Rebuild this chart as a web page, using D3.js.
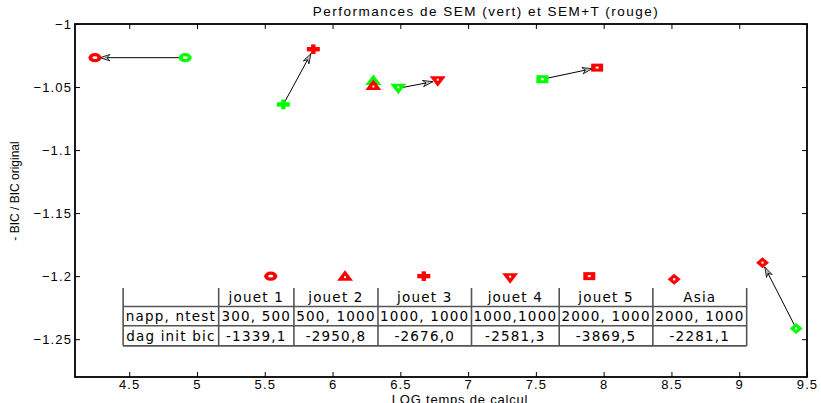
<!DOCTYPE html>
<html><head><meta charset="utf-8">
<script src="https://cdn.jsdelivr.net/npm/d3@7"></script>
<style>
body{margin:0;background:#fff;}
svg{display:block;}
</style></head>
<body><svg id="c" width="821" height="403"></svg>
<script>
// ---- data ----
const shapes = ["circle","plus","triUp","triDown","square","diamond"];
const semX   = [4.913, 5.637, 6.301, 6.485, 7.548, 9.420];   // SEM (vert)
const semY   = [-1.0267, -1.0638, -1.0449, -1.0510, -1.0438, -1.2415];
const semtX  = [4.247, 5.858, 6.301, 6.776, 7.952, 9.172];   // SEM+T (rouge)
const semtY  = [-1.0267, -1.0200, -1.0488, -1.0450, -1.0346, -1.1893];
const arrows = [true, true, false, true, true, true];
// key markers above the table (same shape order as above)
const keyX   = [5.544, 6.673, 6.092, 7.310, 7.894, 8.520];
const keyY   = [-1.2, -1.2, -1.2, -1.2012, -1.2, -1.2025];
const xTicks = [4.5, 5, 5.5, 6, 6.5, 7, 7.5, 8, 8.5, 9, 9.5];
const yTicks = [-1, -1.05, -1.1, -1.15, -1.2, -1.25];
const colHeaders = ["", "jouet 1", "jouet 2", "jouet 3", "jouet 4", "jouet 5", "Asia"];
const rowNapp = ["napp, ntest", "300, 500", "500, 1000", "1000, 1000", "1000,1000", "2000, 1000", "2000, 1000"];
const rowBic  = ["dag init bic", "-1339,1", "-2950,8", "-2676,0", "-2581,3", "-3869,5", "-2281,1"];
// table anchored in data coordinates (x column boundaries, y row boundaries)
const tableColX = [4.455, 5.16, 5.715, 6.335, 7.025, 7.672, 8.363, 9.055];
const tableRowY = [-1.2094, -1.2241, -1.2394, -1.2553];

const RED = "#ff0000", GREEN = "#00ff00";
const m = {l:75, r:807, t:24, b:377};

const svg = d3.select("#c");
const x = d3.scaleLinear().domain([4.1, 9.5]).range([m.l, m.r]);
const y = d3.scaleLinear().domain([-1.28, -1]).range([m.b, m.t]);

const fmtY = d => (d<0?"\u2212":"") + String(Math.abs(d));
const tickFont = "Liberation Sans, Arial, sans-serif";

// axes (box with inward ticks)
const axB = svg.append("g").attr("transform",`translate(0,${m.b})`)
  .call(d3.axisBottom(x).tickValues(xTicks).tickSizeInner(-5).tickSizeOuter(0).tickPadding(3).tickFormat(d=>String(d)));
const axT = svg.append("g").attr("transform",`translate(0,${m.t})`)
  .call(d3.axisTop(x).tickValues(xTicks).tickSizeInner(-5).tickSizeOuter(0).tickFormat(""));
const axL = svg.append("g").attr("transform",`translate(${m.l},0)`)
  .call(d3.axisLeft(y).tickValues(yTicks).tickSizeInner(-5).tickSizeOuter(0).tickPadding(3).tickFormat(fmtY));
const axR = svg.append("g").attr("transform",`translate(${m.r},0)`)
  .call(d3.axisRight(y).tickValues(yTicks).tickSizeInner(-5).tickSizeOuter(0).tickFormat(""));
[axB,axT,axL,axR].forEach(g=>{
  g.select(".domain").remove();
  g.selectAll("line").attr("stroke","#000").attr("stroke-width",1);
  g.selectAll("text").attr("font-family",tickFont).attr("font-size",13).attr("fill","#000").attr("letter-spacing","1.1px");
});
svg.append("rect").attr("x",m.l).attr("y",m.t).attr("width",m.r-m.l).attr("height",m.b-m.t)
  .attr("fill","none").attr("stroke","#000").attr("stroke-width",1.8);

// title & labels
svg.append("text").attr("x",486).attr("y",16).attr("text-anchor","middle")
  .attr("font-family",tickFont).attr("font-size",13.5).attr("letter-spacing","1.5px")
  .text("Performances de SEM (vert) et SEM+T (rouge)");
svg.append("text").attr("x",460).attr("y",404).attr("text-anchor","middle")
  .attr("font-family",tickFont).attr("font-size",13).attr("letter-spacing","0.8px")
  .text("LOG temps de calcul");
svg.append("text").attr("transform","translate(19,191) rotate(-90)").attr("text-anchor","middle")
  .attr("font-family","Liberation Sans Narrow, Liberation Sans, sans-serif").attr("font-size",12)
  .text("- BIC / BIC original");

// arrows (green -> red)
const gA = svg.append("g");
semX.forEach((sx,i)=>{
  if(!arrows[i]) return;
  const x1=x(sx), y1=y(semY[i]), x2=x(semtX[i]), y2=y(semtY[i]);
  const dx=x2-x1, dy=y2-y1, L=Math.hypot(dx,dy), ux=dx/L, uy=dy/L;
  const tx=x2-ux*5, ty=y2-uy*5;
  gA.append("line").attr("x1",x1).attr("y1",y1).attr("x2",tx).attr("y2",ty)
    .attr("stroke","#000").attr("stroke-width",1);
  const hl=10, hw=3.2, nx=-uy, ny=ux;
  const bx=tx-ux*hl, by=ty-uy*hl, cx=tx-ux*hl*0.7, cy=ty-uy*hl*0.7;
  gA.append("path").attr("d",`M${tx},${ty}L${bx+nx*hw},${by+ny*hw}L${cx},${cy}L${bx-nx*hw},${by-ny*hw}Z`)
    .attr("fill","#bbb").attr("stroke","#000").attr("stroke-width",0.8);
});

// markers: filled shapes with a small white core
function marker(g, shape, px, py, col){
  const s = g.append("g").attr("transform",`translate(${px},${py})`);
  const dot = (w,h,dy=0)=>s.append("rect").attr("x",-w/2).attr("y",-h/2+dy).attr("width",w).attr("height",h).attr("fill","#fff");
  if(shape==="circle"){
    s.append("ellipse").attr("rx",6.5).attr("ry",4.6).attr("fill",col);
    s.append("ellipse").attr("rx",2.6).attr("ry",1.4).attr("fill","#fff");
  } else if(shape==="plus"){
    s.append("rect").attr("x",-6.5).attr("y",-2.2).attr("width",13).attr("height",4.4).attr("fill",col);
    s.append("rect").attr("x",-2.2).attr("y",-4.8).attr("width",4.4).attr("height",9.6).attr("fill",col);
  } else if(shape==="triUp"){
    s.append("path").attr("d","M0,-6L8,4.5L-8,4.5Z").attr("fill",col);
    dot(2,2,1);
  } else if(shape==="triDown"){
    s.append("path").attr("d","M0,6L8,-4.5L-8,-4.5Z").attr("fill",col);
    dot(2,2,-1);
  } else if(shape==="square"){
    s.append("rect").attr("x",-6).attr("y",-4).attr("width",12).attr("height",8).attr("fill",col);
    dot(3,2);
  } else if(shape==="diamond"){
    s.append("path").attr("d","M0,-5.5L6.5,0L0,5.5L-6.5,0Z").attr("fill",col);
    dot(2.2,2.2);
  }
}
const gM = svg.append("g");
shapes.forEach((sh,i)=>{
  marker(gM, sh, x(semX[i]), y(semY[i]), GREEN);
  marker(gM, sh, x(semtX[i]), y(semtY[i]), RED);
  marker(gM, sh, x(keyX[i]), y(keyY[i]), RED);
});

// table
const gT = svg.append("g");
const cx = tableColX.map(v=>x(v)), ry = tableRowY.map(v=>y(v));
const tblFont = "DejaVu Sans, sans-serif";
const lineCol = "#555";
cx.forEach(v=>gT.append("line").attr("x1",v).attr("x2",v).attr("y1",ry[0]).attr("y2",ry[3]).attr("stroke",lineCol).attr("stroke-width",1.6));
[1,2,3].forEach(r=>gT.append("line").attr("x1",cx[0]).attr("x2",cx[cx.length-1]).attr("y1",ry[r]).attr("y2",ry[r]).attr("stroke",lineCol).attr("stroke-width",1.6));
const rows = [colHeaders, rowNapp, rowBic];
rows.forEach((row,r)=>{
  row.forEach((t,c)=>{
    if(!t) return;
    gT.append("text").attr("x",(cx[c]+cx[c+1])/2).attr("y",(ry[r]+ry[r+1])/2+5)
      .attr("text-anchor","middle").attr("font-family",tblFont).attr("font-size",13.5)
      .attr("letter-spacing","1.2px").attr("fill","#000").text(t);
  });
});
</script></body></html>
